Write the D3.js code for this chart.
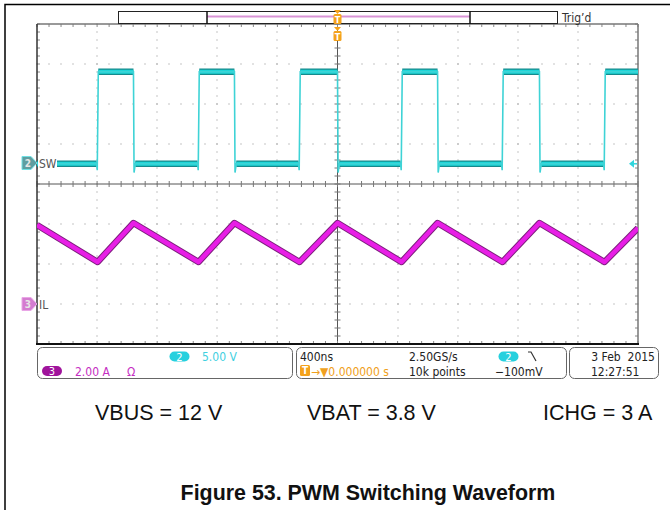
<!DOCTYPE html>
<html><head><meta charset="utf-8">
<script src="https://cdn.jsdelivr.net/npm/d3@7"></script>
<style>body{margin:0;background:#fff}svg{display:block}</style>
</head><body>
<svg id="c" width="670" height="510"></svg>
<script>
// ---------- data ----------
const timeDomain = [-2000, 2000];            // ns, 400 ns/div, trigger at 0
const swRise = [-1597, -925, -253, 426, 1098, 1777];   // ns
const swFall = [-1358, -686, 0, 666, 1344];            // ns
const swLevels = {low: -0.1, high: 11.4, dipRise: -0.9, dipFall: -1.2}; // V
const ilLevels = {start: 3.95, valley: 2.1, peak: 4.05, end: 3.8};      // A
const chSW = {name: "SW", num: "2", voltsPerDiv: 5, scaleText: "5.00 V"};
const chIL = {name: "IL", num: "3", ampsPerDiv: 2, scaleText: "2.00 A"};
const horiz = {timeDiv: "400ns", rate: "2.50GS/s", points: "10k points", trigPos: "\u2192\u25BC0.000000 s", trigLevel: "\u2212100mV"};
const stamp = {date: "3 Feb  2015", time: "12:27:51"};
const conditions = ["VBUS = 12 V", "VBAT = 3.8 V", "ICHG = 3 A"];
const caption = "Figure 53. PWM Switching Waveform";

// ---------- layout ----------
const svg = d3.select("#c");
const G = {l: 37, r: 638, t: 24, b: 344};
const x = d3.scaleLinear().domain(timeDomain).range([G.l, G.r]);
const yDiv = d3.scaleLinear().domain([4, -4]).range([G.t, G.b]);
const ySW = d3.scaleLinear().domain([0, chSW.voltsPerDiv]).range([163, 123]);
const yIL = d3.scaleLinear().domain([0, chIL.ampsPerDiv]).range([304, 264]);
const scopeFont = "'DejaVu Sans Condensed','DejaVu Sans',sans-serif";

// outer frame
svg.append("path").attr("d", "M5,510 V4.5 H670").attr("fill", "none").attr("stroke", "#000").attr("stroke-width", 1.5);

// ---------- graticule ----------
const grid = svg.append("g");
const majorT = d3.range(timeDomain[0], timeDomain[1] + 1, 400);
const minorT = d3.range(timeDomain[0], timeDomain[1] + 1, 80);
const majorD = d3.range(-4, 4.01, 1);
const minorD = d3.range(-4, 4.001, 0.2);
majorT.slice(1, -1).forEach(t => {
  if (t === 0) return;
  minorD.forEach(d => grid.append("rect").attr("x", Math.round(x(t)) - 0.5).attr("y", Math.round(yDiv(d)) - 0.5)
    .attr("width", 1).attr("height", 1).attr("fill", "#8a8a8a"));
});
majorD.slice(1, -1).forEach(d => {
  if (d === 0) return;
  minorT.forEach(t => grid.append("rect").attr("x", Math.round(x(t)) - 0.5).attr("y", Math.round(yDiv(d)) - 0.5)
    .attr("width", 1).attr("height", 1).attr("fill", "#8a8a8a"));
});
grid.append("line").attr("x1", x(0)).attr("x2", x(0)).attr("y1", G.t).attr("y2", G.b).attr("stroke", "#555").attr("stroke-width", 1);
grid.append("line").attr("x1", G.l).attr("x2", G.r).attr("y1", yDiv(0)).attr("y2", yDiv(0)).attr("stroke", "#555").attr("stroke-width", 1);
minorT.forEach(t => {
  grid.append("line").attr("x1", x(t)).attr("x2", x(t)).attr("y1", yDiv(0) - 3).attr("y2", yDiv(0) + 3).attr("stroke", "#777");
  grid.append("line").attr("x1", x(t)).attr("x2", x(t)).attr("y1", G.t).attr("y2", G.t + 3).attr("stroke", "#888");
  grid.append("line").attr("x1", x(t)).attr("x2", x(t)).attr("y1", G.b - 3).attr("y2", G.b).attr("stroke", "#888");
});
minorD.forEach(d => {
  grid.append("line").attr("x1", x(0) - 3).attr("x2", x(0) + 3).attr("y1", yDiv(d)).attr("y2", yDiv(d)).attr("stroke", "#777");
  grid.append("line").attr("x1", G.l).attr("x2", G.l + 3).attr("y1", yDiv(d)).attr("y2", yDiv(d)).attr("stroke", "#888");
  grid.append("line").attr("x1", G.r - 3).attr("x2", G.r).attr("y1", yDiv(d)).attr("y2", yDiv(d)).attr("stroke", "#888");
});
grid.append("line").attr("x1", G.l).attr("x2", G.r).attr("y1", G.t).attr("y2", G.t).attr("stroke", "#777").attr("stroke-width", 1.5);
grid.append("line").attr("x1", G.r).attr("x2", G.r).attr("y1", G.t).attr("y2", G.b).attr("stroke", "#777").attr("stroke-width", 1.5);
grid.append("line").attr("x1", G.l).attr("x2", G.l).attr("y1", G.t).attr("y2", G.b).attr("stroke", "#333").attr("stroke-width", 1.5);
grid.append("line").attr("x1", G.l - 1).attr("x2", G.r + 1).attr("y1", G.b).attr("y2", G.b).attr("stroke", "#111").attr("stroke-width", 2);

// ---------- waveforms ----------
const events = swRise.map(t => ({t, kind: "rise"})).concat(swFall.map(t => ({t, kind: "fall"}))).sort((a, b) => a.t - b.t);

const swPts = [[timeDomain[0], swLevels.low]];
events.forEach(e => {
  if (e.kind === "rise") {
    swPts.push([e.t - 6, swLevels.low], [e.t - 2, swLevels.dipRise], [e.t + 5, swLevels.high]);
  } else {
    swPts.push([e.t, swLevels.high], [e.t + 4, swLevels.dipFall], [e.t + 12, swLevels.low]);
  }
});
swPts.push([timeDomain[1], events[events.length - 1].kind === "rise" ? swLevels.high : swLevels.low]);

const ilPts = [[timeDomain[0], ilLevels.start]];
events.forEach(e => ilPts.push([e.t, e.kind === "rise" ? ilLevels.valley : ilLevels.peak]));
ilPts.push([timeDomain[1], ilLevels.end]);

svg.append("clipPath").attr("id", "gclip").append("rect")
  .attr("x", G.l).attr("y", G.t).attr("width", G.r - G.l).attr("height", G.b - G.t);
const wave = svg.append("g").attr("clip-path", "url(#gclip)");

const lineSW = d3.line().x(d => x(d[0])).y(d => ySW(d[1]));
const lineIL = d3.line().x(d => x(d[0])).y(d => yIL(d[1]));

wave.append("path").attr("d", lineIL(ilPts)).attr("fill", "none").attr("stroke", "#7d1f7d").attr("stroke-width", 6.5).attr("stroke-linejoin", "round");
wave.append("path").attr("d", lineIL(ilPts)).attr("fill", "none").attr("stroke", "#e81ee6").attr("stroke-width", 4.5).attr("stroke-linejoin", "round");

const flats = [];
for (let i = 0; i < swPts.length - 1; i++) {
  const a = swPts[i], b = swPts[i + 1];
  if (a[1] === b[1] && (a[1] === swLevels.low || a[1] === swLevels.high)) flats.push([a, b]);
}
flats.forEach(f => wave.append("path").attr("d", lineSW(f)).attr("fill", "none").attr("stroke", "#158a8c").attr("stroke-width", 6.5));
flats.forEach(f => wave.append("path").attr("d", lineSW(f)).attr("fill", "none").attr("stroke", "#1fd6d8").attr("stroke-width", 4));
wave.append("path").attr("d", lineSW(swPts)).attr("fill", "none").attr("stroke", "#3ed3d6").attr("stroke-width", 1.6);

// ---------- channel markers ----------
function marker(yc, fill, edge, num, label) {
  const g = svg.append("g");
  g.append("rect").attr("x", G.l + 1).attr("y", yc - 6).attr("width", 19).attr("height", 12).attr("fill", "#fff");
  g.append("path").attr("d", `M22,${yc - 6.5} H31 L37,${yc} L31,${yc + 6.5} H22 Z`).attr("fill", fill).attr("stroke", edge).attr("stroke-width", 1);
  g.append("text").attr("x", 28).attr("y", yc + 4).attr("text-anchor", "middle").attr("font-family", scopeFont)
    .attr("font-size", 10).attr("font-weight", "bold").attr("fill", "#e6e6e6").text(num);
  g.append("text").attr("x", 39).attr("y", yc + 4.5).attr("font-family", scopeFont).attr("font-size", 12).attr("fill", "#555").text(label);
}
marker(ySW(0), "#5f9ea0", "#6fe0e4", chSW.num, chSW.name);
marker(yIL(0), "#d47cd0", "#e9a6e6", chIL.num, chIL.name);

const trigY = ySW(-0.1);
svg.append("path").attr("d", `M${G.r - 9},${trigY} L${G.r - 4},${trigY - 4} L${G.r - 4},${trigY + 4} Z`).attr("fill", "#30d5dc");
svg.append("line").attr("x1", G.r - 5).attr("x2", G.r - 1).attr("y1", trigY).attr("y2", trigY).attr("stroke", "#30d5dc").attr("stroke-width", 1.5);

// ---------- record bar ----------
const bar = svg.append("g");
bar.append("rect").attr("x", 118.5).attr("y", 11.5).attr("width", 439).attr("height", 12).attr("fill", "#fff").attr("stroke", "#222").attr("stroke-width", 1);
bar.append("line").attr("x1", 207).attr("x2", 470).attr("y1", 16.5).attr("y2", 16.5).attr("stroke", "#d994d6").attr("stroke-width", 2);
[207, 470].forEach(px => bar.append("line").attr("x1", px).attr("x2", px).attr("y1", 11).attr("y2", 24).attr("stroke", "#111").attr("stroke-width", 1.5));
bar.append("text").attr("x", 562).attr("y", 22).attr("font-family", scopeFont).attr("font-size", 12).attr("fill", "#333").text("Trig\u2019d");

function trigMark(cx, top) {
  const g = svg.append("g");
  g.append("path").attr("d", `M${cx - 3.5},${top} L${cx + 3.5},${top} L${cx},${top + 4} Z`).attr("fill", "#f4a21c");
  g.append("rect").attr("x", cx - 4).attr("y", top + 4).attr("width", 8).attr("height", 10).attr("rx", 1.5).attr("fill", "#f4a21c");
  g.append("text").attr("x", cx).attr("y", top + 12.5).attr("text-anchor", "middle").attr("font-family", scopeFont)
    .attr("font-size", 9).attr("font-weight", "bold").attr("fill", "#fff").text("T");
}
trigMark(x(0), 10);
trigMark(x(0), 27);

// ---------- info panel ----------
const info = svg.append("g").attr("font-family", scopeFont).attr("font-size", 12);
[[37.5, 255], [296.5, 270], [569.5, 89]].forEach(([bx, bw]) =>
  info.append("rect").attr("x", bx).attr("y", 347.5).attr("width", bw).attr("height", 31).attr("rx", 5)
    .attr("fill", "none").attr("stroke", "#666").attr("stroke-width", 1));
function badge(cx, cy, fill, num) {
  info.append("rect").attr("x", cx - 10).attr("y", cy - 5).attr("width", 20).attr("height", 10).attr("rx", 5).attr("fill", fill);
  info.append("text").attr("x", cx).attr("y", cy + 4).attr("text-anchor", "middle").attr("fill", "#fff").attr("font-size", 11).text(num);
}
badge(179.5, 356.5, "#26d0de", chSW.num);
info.append("text").attr("x", 202).attr("y", 361).attr("fill", "#3fd0df").text(chSW.scaleText);
badge(52, 371, "#a0149c", chIL.num);
info.append("text").attr("x", 75).attr("y", 375.5).attr("fill", "#c52ec2").text(chIL.scaleText);
info.append("text").attr("x", 127).attr("y", 375.5).attr("fill", "#c52ec2").text("\u03A9");

info.append("text").attr("x", 300).attr("y", 361).attr("fill", "#222").text(horiz.timeDiv);
info.append("rect").attr("x", 300).attr("y", 365).attr("width", 10).attr("height", 11).attr("rx", 1.5).attr("fill", "#f4a21c");
info.append("text").attr("x", 305).attr("y", 374).attr("text-anchor", "middle").attr("fill", "#fff").attr("font-size", 10).attr("font-weight", "bold").text("T");
info.append("text").attr("x", 311).attr("y", 375.5).attr("fill", "#f0a020").text(horiz.trigPos);
info.append("text").attr("x", 409).attr("y", 361).attr("fill", "#222").text(horiz.rate);
info.append("text").attr("x", 409).attr("y", 375.5).attr("fill", "#222").text(horiz.points);
badge(508.5, 356.5, "#26d0de", chSW.num);
info.append("path").attr("d", "M528,352 L531,352 L536,361").attr("fill", "none").attr("stroke", "#333").attr("stroke-width", 1.2);
info.append("text").attr("x", 495).attr("y", 375.5).attr("fill", "#222").text(horiz.trigLevel);
info.append("text").attr("x", 655).attr("y", 361).attr("text-anchor", "end").attr("fill", "#222").style("white-space", "pre").text(stamp.date);
info.append("text").attr("x", 591).attr("y", 375.5).attr("fill", "#222").text(stamp.time);

// ---------- conditions & caption ----------
const condX = [95, 307, 543];
conditions.forEach((c, i) => svg.append("text").attr("x", condX[i]).attr("y", 419.5)
  .attr("font-family", "'Liberation Sans',Arial,sans-serif").attr("font-size", 21.5).attr("fill", "#111").text(c));
svg.append("text").attr("x", 368).attr("y", 499.5).attr("text-anchor", "middle")
  .attr("font-family", "'Liberation Sans',Arial,sans-serif").attr("font-size", 21.4).attr("font-weight", "bold").attr("fill", "#111").text(caption);
</script>
</body></html>
